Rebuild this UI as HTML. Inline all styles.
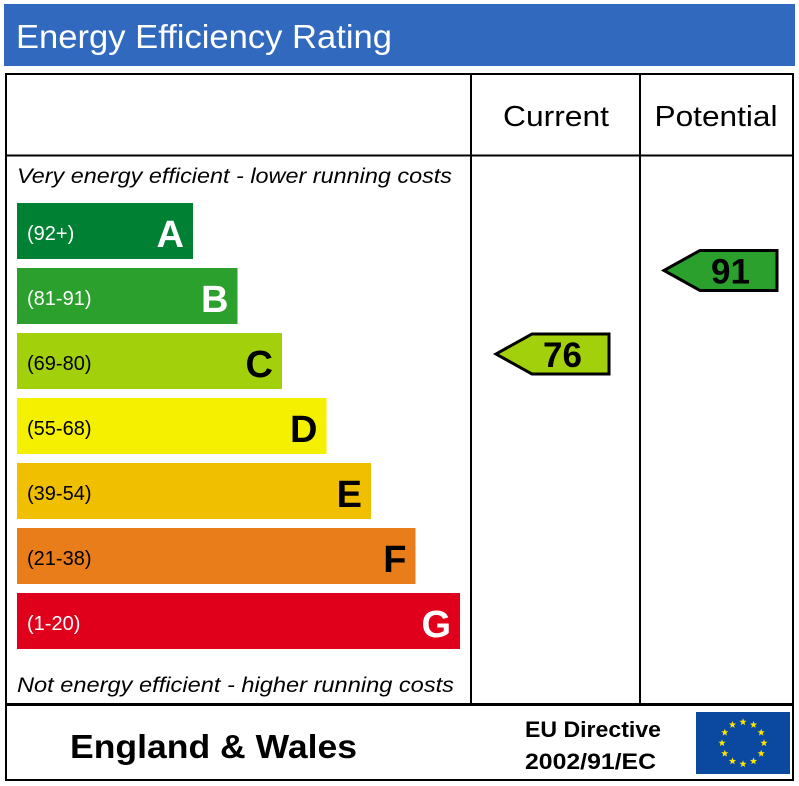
<!DOCTYPE html>
<html><head><meta charset="utf-8"><style>
html,body{margin:0;padding:0;background:#fff;}
svg{display:block;font-family:"Liberation Sans",sans-serif;}
</style></head><body>
<svg id="c" width="799" height="786" viewBox="0 0 799 786">
<rect x="4" y="4" width="791" height="62" fill="#3169be"/>
<text x="16" y="48" font-size="33" fill="#fff" textLength="376" lengthAdjust="spacingAndGlyphs">Energy Efficiency Rating</text>
<rect x="6" y="74" width="787" height="706" fill="none" stroke="#000" stroke-width="2"/>
<line x1="6" y1="155.5" x2="793" y2="155.5" stroke="#000" stroke-width="2"/>
<line x1="471" y1="74" x2="471" y2="704" stroke="#000" stroke-width="2"/>
<line x1="640" y1="74" x2="640" y2="704" stroke="#000" stroke-width="2"/>
<line x1="6" y1="704.5" x2="793" y2="704.5" stroke="#000" stroke-width="3"/>
<text x="556" y="126" font-size="29" text-anchor="middle" textLength="106" lengthAdjust="spacingAndGlyphs">Current</text>
<text x="716" y="126" font-size="29" text-anchor="middle" textLength="123" lengthAdjust="spacingAndGlyphs">Potential</text>
<text x="17" y="183" font-size="21" font-style="italic" textLength="435" lengthAdjust="spacingAndGlyphs">Very energy efficient - lower running costs</text>
<text x="17" y="692" font-size="21" font-style="italic" textLength="437" lengthAdjust="spacingAndGlyphs">Not energy efficient - higher running costs</text>
<g id="bands"></g>
<g id="arrows"></g>
<text x="70" y="758" font-size="33" font-weight="bold" textLength="287" lengthAdjust="spacingAndGlyphs">England &amp; Wales</text>
<text x="525" y="737" font-size="22" font-weight="bold" textLength="136" lengthAdjust="spacingAndGlyphs">EU Directive</text>
<text x="525" y="769" font-size="22" font-weight="bold" textLength="131" lengthAdjust="spacingAndGlyphs">2002/91/EC</text>
<rect x="696" y="712" width="94" height="62" fill="#0b48a0"/>
<g id="stars" fill="#ffe600"></g>
</svg>
<script>
const bandLetters = ["A","B","C","D","E","F","G"];
const bandRanges = ["(92+)","(81-91)","(69-80)","(55-68)","(39-54)","(21-38)","(1-20)"];
const bandColors = ["#008033","#2ca02c","#a2d10c","#f5f000","#f0c000","#e87d1a","#e0001c"];
const currentValue = 76;
const potentialValue = 91;
const ratingColor = v => v>=92?bandColors[0]:v>=81?bandColors[1]:v>=69?bandColors[2]:v>=55?bandColors[3]:v>=39?bandColors[4]:v>=21?bandColors[5]:bandColors[6];
const NS="http://www.w3.org/2000/svg";
const bands=document.getElementById('bands');
bandLetters.forEach((L,i)=>{
  const y=203+i*65, w=176+i*44.5;
  const r=document.createElementNS(NS,'rect');
  r.setAttribute('x',17);r.setAttribute('y',y);r.setAttribute('width',w);r.setAttribute('height',56);r.setAttribute('fill',bandColors[i]);
  
  
  bands.appendChild(r);
  const t=document.createElementNS(NS,'text');
  t.setAttribute('x',27);t.setAttribute('y',y+37);t.setAttribute('font-size',20);
  t.setAttribute('fill',(i>=2&&i<=5)?'#000':'#fff');t.textContent=bandRanges[i];
  
  
  bands.appendChild(t);
  const l=document.createElementNS(NS,'text');
  l.setAttribute('x',17+w-9);l.setAttribute('y',y+44);l.setAttribute('font-size',38);l.setAttribute('font-weight','bold');l.setAttribute('text-anchor','end');
  l.setAttribute('fill',(i>=2&&i<=5)?'#000':'#fff');l.textContent=L;
  
  
  bands.appendChild(l);
});
const yOf=v=>354-(v-76)*5.57;
const arrows=document.getElementById('arrows');
function arrow(v,tipX,name){
  const cy=yOf(v), h=20, bx=tipX+36, ex=tipX+113;
  const p=document.createElementNS(NS,'polygon');
  p.setAttribute('points',`${tipX},${cy} ${bx},${cy-h} ${ex},${cy-h} ${ex},${cy+h} ${bx},${cy+h}`);
  p.setAttribute('fill',ratingColor(v));p.setAttribute('stroke','#000');p.setAttribute('stroke-width',3);
  
  
  arrows.appendChild(p);
  const t=document.createElementNS(NS,'text');
  t.setAttribute('x',(bx+ex)/2-8);t.setAttribute('y',cy+13);t.setAttribute('font-size',35);t.setAttribute('font-weight','bold');t.setAttribute('text-anchor','middle');
  t.textContent=v;
  
  
  arrows.appendChild(t);
}
arrow(currentValue,496,'current-rating');
arrow(potentialValue,664,'potential-rating');
const stars=document.getElementById('stars');
for(let k=0;k<12;k++){
  const a=k*Math.PI/6, cx=743+21*Math.sin(a), cy=743-21*Math.cos(a);
  let pts=[];
  for(let j=0;j<10;j++){const r=j%2?1.6:3.8, b=j*Math.PI/5; pts.push((cx+r*Math.sin(b)).toFixed(1)+','+(cy-r*Math.cos(b)).toFixed(1));}
  const s=document.createElementNS(NS,'polygon');
  s.setAttribute('points',pts.join(' '));
  
  
  stars.appendChild(s);
}
</script>
</body></html>
